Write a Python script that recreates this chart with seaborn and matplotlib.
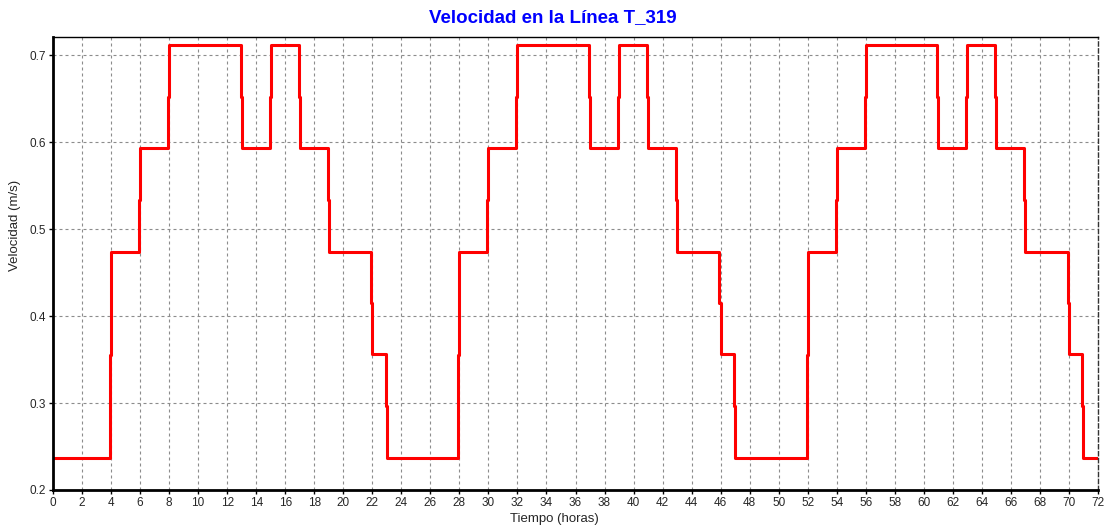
import numpy as np
import pandas as pd
import matplotlib
matplotlib.use("Agg")
import matplotlib.pyplot as plt
import seaborn as sns

# Hourly velocity in line T_319 (m/s), hours 0..71
velocity = [
    0.237, 0.237, 0.237, 0.237, 0.474, 0.474, 0.593, 0.593,
    0.711, 0.711, 0.711, 0.711, 0.711, 0.593, 0.593, 0.711,
    0.711, 0.593, 0.593, 0.474, 0.474, 0.474, 0.356, 0.237,
    0.237, 0.237, 0.237, 0.237, 0.474, 0.474, 0.593, 0.593,
    0.711, 0.711, 0.711, 0.711, 0.711, 0.593, 0.593, 0.711,
    0.711, 0.593, 0.593, 0.474, 0.474, 0.474, 0.356, 0.237,
    0.237, 0.237, 0.237, 0.237, 0.474, 0.474, 0.593, 0.593,
    0.711, 0.711, 0.711, 0.711, 0.711, 0.593, 0.593, 0.711,
    0.711, 0.593, 0.593, 0.474, 0.474, 0.474, 0.356, 0.237,
]
hours = list(range(len(velocity) + 1))
x_ticks = list(range(0, 73, 2))
y_ticks = [0.2, 0.3, 0.4, 0.5, 0.6, 0.7]

title = "Velocidad en la Línea T_319"
x_label = "Tiempo (horas)"
y_label = "Velocidad (m/s)"

# Build the stepped path; each change is drawn as two half-steps
# one report interval apart, the way the simulator plots it.
lag = 0.08
px, py = [hours[0]], [velocity[0]]
for h in range(1, len(velocity)):
    prev, cur = velocity[h - 1], velocity[h]
    if cur != prev:
        mid = (prev + cur) / 2
        px += [h - lag, h - lag, h, h]
        py += [prev, mid, mid, cur]
px.append(hours[-1])
py.append(velocity[-1])
df = pd.DataFrame({"t": px, "v": py, "order": range(len(px))})

sns.set_theme(style="white")
plt.rcParams["font.family"] = ["Liberation Sans", "DejaVu Sans"]

fig = plt.figure(figsize=(11.09, 5.29), dpi=100)
ax = fig.add_axes([53 / 1109, 1 - 490 / 529, (1098 - 53) / 1109, (490 - 37) / 529])

sns.lineplot(data=df, x="t", y="v", sort=False, estimator=None,
             color="#ff0000", linewidth=2.2, ax=ax)

ax.set_xlim(0, 72)
ax.set_ylim(0.2, 0.7207)
ax.set_xticks(x_ticks)
ax.set_yticks(y_ticks)
ax.set_yticklabels([f"{v:.1f}" for v in y_ticks])
ax.grid(True, color="#8c8c8c", linestyle=(0, (2.7, 2.7)), linewidth=0.8)
ax.set_axisbelow(True)
ax.tick_params(axis="both", labelsize=8.5, length=3, width=1, color="black",
               pad=2, direction="out", bottom=True, left=True)
ax.set_xlabel("")
ax.set_ylabel("")

for side in ("left", "bottom"):
    ax.spines[side].set_linewidth(2)
    ax.spines[side].set_color("black")
ax.spines["top"].set_linewidth(1)
ax.spines["top"].set_color("black")
ax.spines["right"].set_linewidth(1)
ax.spines["right"].set_color("#333333")
ax.spines["right"].set_linestyle((0, (3, 2)))

fig.text(0.4985, 1 - 18 / 529, title, ha="center", va="center",
         color="#0000ff", fontsize=13.5, fontweight="bold")
fig.text(0.5, 1 - 519 / 529, x_label, ha="center", va="center", fontsize=9.5)
fig.text(15 / 1109, 1 - 225 / 529, y_label, ha="center", va="center",
         rotation=90, fontsize=9.5)

fig.savefig("out.png", dpi=100, facecolor="white")
